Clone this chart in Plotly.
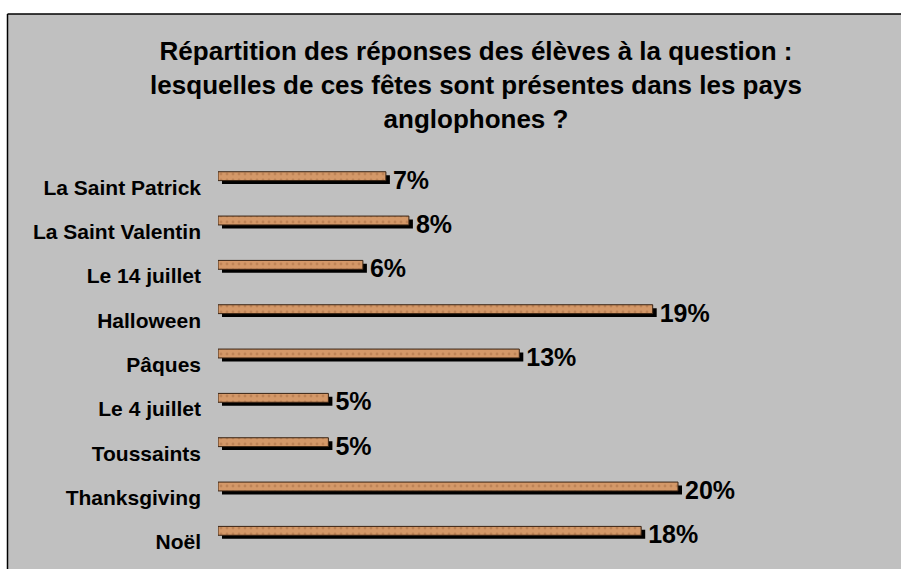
import plotly.graph_objects as go

# Data (top to bottom as shown in the chart)
categories = ["La Saint Patrick", "La Saint Valentin", "Le 14 juillet", "Halloween",
              "Pâques", "Le 4 juillet", "Toussaints", "Thanksgiving", "Noël"]
values = [7.3, 8.3, 6.3, 18.9, 13.1, 4.8, 4.8, 20.0, 18.4]
pct_labels = ["7%", "8%", "6%", "19%", "13%", "5%", "5%", "20%", "18%"]

# Plotly draws first category at bottom: reverse for display
cats = categories[::-1]
vals = values[::-1]
labs = pct_labels[::-1]

W, H = 901, 569
L, R, T, B = 218, 21, 165, 5
pw = W - L - R
ph = H - T - B
xmax = pw / 23.0

shadow_dx = 4 / 23.0
FONT = "Liberation Sans, Arial, sans-serif"
FRAME_X, FRAME_Y = 7.5, 14

fig = go.Figure()

# shadow bars (carry the value labels)
fig.add_trace(go.Bar(
    y=cats, x=vals, base=shadow_dx, orientation="h",
    width=0.2, offset=0.07,
    marker=dict(color="#000000", line=dict(width=0)),
    text=labs, textposition="outside", constraintext="none", cliponaxis=False,
    textfont=dict(family=FONT, size=25, color="#000000", weight="bold"),
    hoverinfo="skip", showlegend=False,
))

# main bars
fig.add_trace(go.Bar(
    y=cats, x=vals, orientation="h",
    width=0.2, offset=0.148,
    marker=dict(color="#D49868", line=dict(color="#3a2414", width=1),
                pattern=dict(shape=".", fgcolor="#a86e44", size=6, solidity=0.18)),
    showlegend=False,
))

# white strips above and left of the chart frame, then frame lines
fig.add_shape(type="rect", xref="paper", yref="paper",
              x0=-L / pw - 0.05, x1=(W - L) / pw + 0.05,
              y0=1 + (T - FRAME_Y) / ph, y1=1 + T / ph + 0.05,
              fillcolor="#FFFFFF", line=dict(width=0), layer="below")
fig.add_shape(type="rect", xref="paper", yref="paper",
              x0=-L / pw - 0.05, x1=(FRAME_X - L) / pw,
              y0=-B / ph - 0.05, y1=1 + T / ph + 0.05,
              fillcolor="#FFFFFF", line=dict(width=0), layer="below")
fig.add_shape(type="line", xref="paper", yref="paper",
              x0=(FRAME_X - L) / pw, x1=(W - L) / pw + 0.05,
              y0=1 + (T - FRAME_Y) / ph, y1=1 + (T - FRAME_Y) / ph,
              line=dict(color="#000000", width=1.5), layer="below")
fig.add_shape(type="line", xref="paper", yref="paper",
              x0=(FRAME_X - L) / pw, x1=(FRAME_X - L) / pw,
              y0=1 + (T - FRAME_Y) / ph, y1=-B / ph - 0.05,
              line=dict(color="#000000", width=1.5), layer="below")

fig.update_layout(
    width=W, height=H,
    margin=dict(l=L, r=R, t=T, b=B, autoexpand=False),
    paper_bgcolor="#C0C0C0",
    plot_bgcolor="rgba(0,0,0,0)",
    barmode="overlay",
    title=dict(
        text="Répartition des réponses des élèves à la question :<br>"
             "lesquelles de ces fêtes sont présentes dans les pays<br>anglophones ?",
        font=dict(family=FONT, size=26, color="#000000", weight="bold"),
        x=476 / W, xanchor="center", xref="container",
        y=1 - 60 / H, yanchor="top", yref="container",
    ),
    xaxis=dict(range=[0, xmax], visible=False, fixedrange=True),
    yaxis=dict(type="category", categoryorder="array", categoryarray=cats,
               range=[-0.5, len(cats) - 0.5],
               showgrid=False, showline=False, zeroline=False, ticks="",
               ticklabelstandoff=16, fixedrange=True,
               tickfont=dict(family=FONT, size=21, color="#000000", weight="bold")),
)

fig.write_html(
    "out.html",
    config={"displayModeBar": False},
    post_script="document.body.style.margin='0';document.body.style.overflow='hidden';",
)
